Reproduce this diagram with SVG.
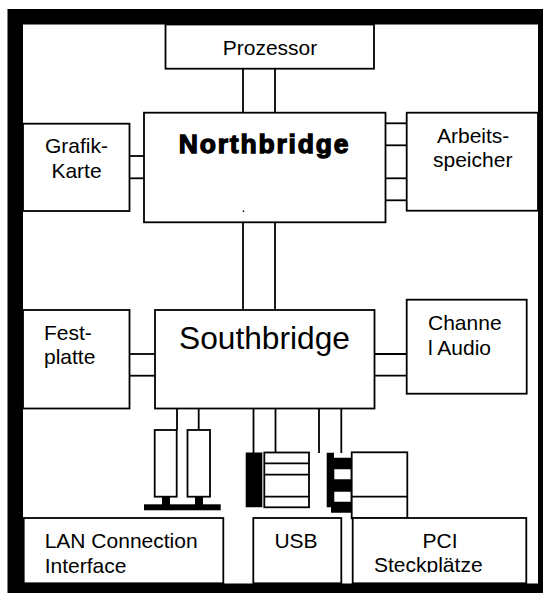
<svg xmlns="http://www.w3.org/2000/svg" width="543" height="593" viewBox="0 0 543 593">
<style>
.b{fill:#fff;stroke:#000;stroke-width:1.8}
.k{fill:#000;stroke:none}
.l{stroke:#000;stroke-width:1.8}
.c line{stroke:#000;stroke-width:1.8}
text{font-family:"Liberation Sans",Arial,sans-serif;font-size:21px;fill:#000}
</style>
<defs><clipPath id="pc"><rect x="353" y="519" width="173" height="53.500"/></clipPath></defs>
<rect width="543" height="593" fill="#fff"/>
<path id="frame" class="k" fill-rule="evenodd" d="M7.500 9H543V593H7.500ZM23 24.500V583.500H538V24.500Z"/>
<g id="connectors" class="c">
<line x1="243" y1="69" x2="243" y2="113"/><line x1="275" y1="69" x2="275" y2="113"/>
<line x1="243" y1="222" x2="243" y2="310"/><line x1="275" y1="222" x2="275" y2="310"/>
<line x1="129" y1="156" x2="144" y2="156"/><line x1="129" y1="178.300" x2="144" y2="178.300"/>
<line x1="385" y1="123.300" x2="407" y2="123.300"/><line x1="385" y1="145.300" x2="407" y2="145.300"/>
<line x1="385" y1="178.300" x2="407" y2="178.300"/><line x1="385" y1="200.300" x2="407" y2="200.300"/>
<line x1="129" y1="354" x2="155" y2="354"/><line x1="129" y1="375.700" x2="155" y2="375.700"/>
<line x1="374" y1="354" x2="407" y2="354"/><line x1="374" y1="375.700" x2="407" y2="375.700"/>
<line x1="177" y1="408" x2="177" y2="430"/><line x1="198.700" y1="408" x2="198.700" y2="430"/>
<line x1="253.500" y1="408" x2="253.500" y2="453"/><line x1="275.500" y1="408" x2="275.500" y2="453"/>
<line x1="319" y1="408" x2="319" y2="453"/><line x1="341.300" y1="408" x2="341.300" y2="453"/>
</g>
<g id="prozessor"><rect class="b" x="165.500" y="24.500" width="208.500" height="44.200"/><text x="270" y="55" text-anchor="middle">Prozessor</text></g>
<g id="northbridge"><rect class="b" x="144" y="112.700" width="241.500" height="109.600"/><text x="264.500" y="152.700" text-anchor="middle" style="font-size:26.500px;font-weight:bold;stroke:#000;stroke-width:1.300;letter-spacing:1.800px">Northbridge</text><text x="243.400" y="212" text-anchor="middle" style="font-size:14px">.</text></g>
<g id="grafik"><rect class="b" x="23" y="123.700" width="106.500" height="87.300"/><text x="76.500" y="153" text-anchor="middle">Grafik-</text><text x="76.500" y="178" text-anchor="middle">Karte</text></g>
<g id="arbeitsspeicher"><rect class="b" x="406.700" y="112.700" width="131.300" height="98"/><text x="437" y="143">Arbeits-</text><text x="433" y="167">speicher</text></g>
<g id="southbridge"><rect class="b" x="155" y="310" width="219.500" height="98.500"/><text x="264.500" y="349.300" text-anchor="middle" style="font-size:31.700px">Southbridge</text></g>
<g id="festplatte"><rect class="b" x="23" y="310" width="106.500" height="98.500"/><text x="44" y="340">Fest-</text><text x="44" y="364.300">platte</text></g>
<g id="audio"><rect class="b" x="406.700" y="299.700" width="120" height="94"/><text x="428" y="330">Channe</text><text x="428" y="354.700">l Audio</text></g>
<g id="lan-port">
<rect class="b" x="154.700" y="430" width="22" height="66.700"/><rect class="b" x="187.500" y="430" width="22.500" height="66.700"/>
<rect class="k" x="162" y="497" width="8" height="8"/><rect class="k" x="195" y="497" width="8" height="8"/><rect class="k" x="144" y="504.300" width="76.700" height="6"/>
</g>
<g id="usb-port">
<path class="k" d="M245.700 452.500H262.300V507.300H245.700Z"/>
<rect class="b" x="264.300" y="452.500" width="44.700" height="54.800"/>
<line class="l" x1="264.300" y1="463.300" x2="309" y2="463.300"/><line class="l" x1="264.300" y1="474.700" x2="309" y2="474.700"/><line class="l" x1="264.300" y1="496.700" x2="309" y2="496.700"/>
</g>
<g id="pci-port">
<rect class="b" x="351.700" y="452.300" width="55.600" height="66"/>
<line class="l" x1="351.700" y1="496.700" x2="407.300" y2="496.700"/>
<path class="k" fill-rule="evenodd" d="M326.700 452.700H334V457.700H351.700V512.700H331V507.300H326.700ZM334.300 469.300V479.300H350.700V469.300ZM334.300 491.700V501.700H350.700V491.700Z"/>
</g>
<g id="lan"><rect class="b" x="23.700" y="518" width="199.600" height="65.300"/><text x="44.700" y="548.300">LAN Connection</text><text x="44.700" y="572.700">Interface</text></g>
<g id="usb"><rect class="b" x="253.300" y="518" width="88" height="65.300"/><text x="296" y="548" text-anchor="middle">USB</text></g>
<g id="pci"><rect class="b" x="352.700" y="518" width="173.600" height="65.300"/><text x="440" y="548" text-anchor="middle">PCI</text><text x="374" y="571.700" clip-path="url(#pc)">Steckplätze</text></g>
</svg>
